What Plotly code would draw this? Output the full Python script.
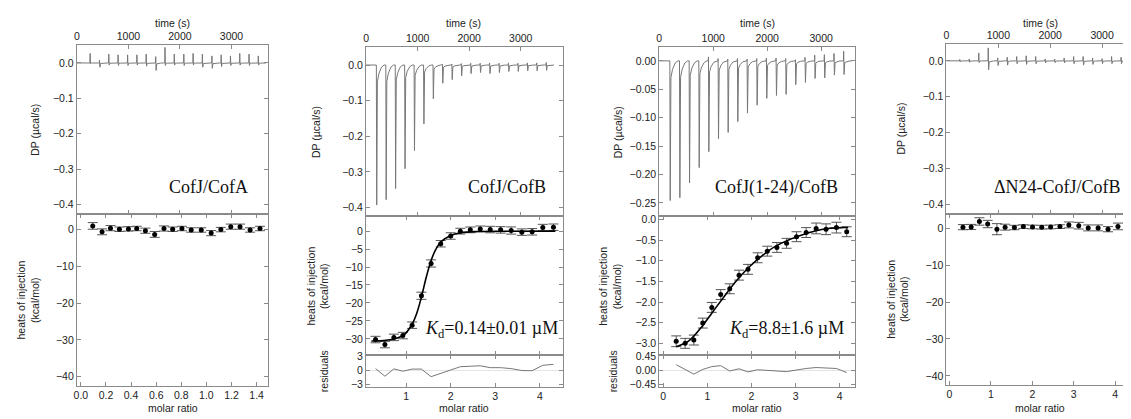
import plotly.graph_objects as go

# reference canvas is 1131x419; the page body adds an 8px margin, so the
# figure is drawn 8px smaller and every reference pixel is shifted by 8
REF_W, REF_H = 1131, 419
OFF = 8
W, H = REF_W - OFF, REF_H - OFF
SANS = "Liberation Sans"
SERIF = "Liberation Serif"
AX = "#8a8a8a"

# ---------------- data ----------------
# panel 1: CofJ/CofA
p1_inj_time = [258, 440, 620, 800, 985, 1165, 1345, 1530, 1710, 1890,
               2075, 2255, 2435, 2620, 2800, 2980, 3160, 3340, 3520]
p1_dp_high = [0.027, 0.008, 0.025, 0.023, 0.023, 0.023, 0.025, 0.018, 0.044, 0.025,
              0.025, 0.027, 0.025, 0.020, 0.023, 0.020, 0.027, 0.025, 0.020]
p1_dp_low = [-0.002, -0.012, -0.006, -0.007, -0.007, -0.006, -0.009, -0.021, -0.007, -0.006,
             -0.007, -0.006, -0.012, -0.015, -0.010, -0.007, -0.006, -0.007, -0.006]
p1_ratio = [0.095, 0.169, 0.236, 0.307, 0.379, 0.445, 0.514, 0.588, 0.662, 0.731,
            0.805, 0.879, 0.959, 1.038, 1.115, 1.194, 1.268, 1.348, 1.427]
p1_heat = [0.9, -0.7, 0.3, 0.0, 0.1, 0.2, -0.4, -1.4, 0.2, 0.0,
           0.2, -0.2, -0.2, -1.05, -0.1, 0.7, 0.7, -0.2, 0.2]
p1_err = [0.9, 0.8, 0.7, 0.6, 0.6, 0.6, 0.7, 0.8, 0.7, 0.6,
          0.6, 0.6, 0.6, 0.7, 0.6, 0.7, 0.7, 0.6, 0.6]

# panel 2: CofJ/CofB
p2_inj_time = [200, 383, 566, 749, 932, 1115, 1298, 1481, 1664, 1847,
               2030, 2213, 2396, 2579, 2762, 2945, 3128, 3311, 3494]
p2_dp_high = [0, 0, 0, 0, 0, 0, 0, 0.002, 0.003, 0.004,
              0.005, 0.005, 0.006, 0.005, 0.006, 0.005, 0.006, 0.006, 0.007]
p2_dp_low = [-0.393, -0.378, -0.347, -0.291, -0.240, -0.165, -0.095, -0.051, -0.041, -0.030,
             -0.024, -0.021, -0.024, -0.021, -0.018, -0.018, -0.016, -0.016, -0.015]
p2_ratio = [0.313, 0.523, 0.725, 0.926, 1.134, 1.343, 1.560, 1.776, 2.000, 2.216,
            2.440, 2.663, 2.887, 3.120, 3.357, 3.597, 3.828, 4.067, 4.306]
p2_heat = [-30.2, -31.6, -29.6, -29.1, -26.2, -18.0, -9.0, -3.5, -1.35, 0.0,
           0.36, 0.63, 0.45, 0.36, 0.18, -0.27, -0.18, 1.0, 1.1]
p2_err = [0.9, 0.9, 0.9, 0.9, 0.9, 1.0, 1.0, 0.9, 0.9, 0.8,
          0.8, 0.8, 0.9, 0.9, 1.0, 0.9, 0.9, 0.9, 0.9]
p2_fit_ratio = [0.22, 0.5, 0.8, 0.95, 1.13, 1.24, 1.34, 1.45, 1.56, 1.66,
                1.78, 2.0, 2.22, 2.6, 3.2, 4.35]
p2_fit_heat = [-30.6, -30.5, -29.8, -28.9, -26.0, -22.8, -18.5, -12.9, -8.2, -5.2,
               -3.0, -1.2, -0.45, -0.1, -0.03, 0.0]
p2_resid = [0.4, -1.2, 0.35, -0.15, 0.3, 0.3, -1.3, -0.6, 0.1, 0.8,
            0.9, 1.0, 0.6, 0.6, 0.4, 0.0, -0.05, 1.1, 1.3]

# panel 3: CofJ(1-24)/CofB
p3_inj_time = [196, 375, 554, 733, 912, 1091, 1270, 1449, 1628, 1807,
               1986, 2165, 2344, 2523, 2702, 2881, 3060, 3239, 3418]
p3_dp_high = [0, 0, 0, 0, 0.007, 0.004, 0.003, 0.004, 0.003, 0.004,
              0.005, 0.005, 0.004, 0.002, 0.006, 0.010, 0.011, 0.013, 0.017]
p3_dp_low = [-0.246, -0.241, -0.215, -0.188, -0.160, -0.137, -0.126, -0.107, -0.092, -0.078,
             -0.066, -0.061, -0.059, -0.042, -0.038, -0.031, -0.030, -0.025, -0.024]
p3_ratio = [0.294, 0.497, 0.693, 0.896, 1.100, 1.303, 1.507, 1.718, 1.921, 2.140,
            2.358, 2.576, 2.795, 3.021, 3.239, 3.465, 3.690, 3.925, 4.158]
p3_heat = [-2.95, -3.00, -2.92, -2.51, -2.13, -1.82, -1.68, -1.35, -1.21, -0.93,
           -0.77, -0.68, -0.58, -0.42, -0.32, -0.22, -0.24, -0.20, -0.30]
p3_err = [0.13, 0.12, 0.12, 0.12, 0.12, 0.12, 0.12, 0.12, 0.12, 0.12,
          0.12, 0.12, 0.12, 0.12, 0.12, 0.13, 0.13, 0.13, 0.12]
p3_fit_ratio = [0.294, 0.58, 0.88, 1.10, 1.33, 1.63, 1.93, 2.23, 2.53, 2.84,
                3.14, 3.44, 3.74, 4.04, 4.19]
p3_fit_heat = [-3.08, -2.94, -2.59, -2.27, -1.94, -1.52, -1.17, -0.89, -0.66, -0.50,
               -0.38, -0.28, -0.22, -0.20, -0.20]
p3_resid = [0.18, 0.02, -0.12, 0.03, 0.12, 0.15, -0.02, 0.05, -0.05, 0.02,
            0.01, -0.02, -0.04, 0.02, 0.06, 0.09, 0.08, 0.06, -0.07]

# panel 4: dN24-CofJ/CofB
p4_inj_time = [256, 439, 622, 805, 988, 1171, 1354, 1537, 1720, 1903,
               2086, 2269, 2452, 2635, 2818, 3001, 3184, 3367, 3550]
p4_dp_high = [0.004, 0.005, 0.022, 0.036, 0.008, 0.010, 0.012, 0.014, 0.012, 0.005,
              0.005, 0.008, 0.012, 0.012, 0.008, 0.006, 0.012, 0.010, 0.005]
p4_dp_low = [-0.003, -0.004, -0.005, -0.025, -0.013, -0.012, -0.008, -0.010, -0.008, -0.006,
             -0.005, -0.006, -0.008, -0.012, -0.010, -0.008, -0.008, -0.008, -0.004]
p4_ratio = [0.327, 0.525, 0.724, 0.923, 1.146, 1.344, 1.568, 1.783, 2.005, 2.227,
            2.442, 2.666, 2.881, 3.120, 3.348, 3.587, 3.826, 4.065, 4.303]
p4_heat = [0.3, 0.35, 1.85, 1.15, -0.25, 0.3, 0.2, 0.45, 0.35, 0.3,
           0.35, 0.45, 0.9, 0.7, 0.1, 0.1, -0.25, 0.5, 0.5]
p4_err = [0.7, 0.7, 1.0, 1.0, 1.5, 0.8, 0.6, 0.5, 0.5, 0.5,
          0.5, 0.5, 0.8, 0.9, 0.8, 0.8, 0.7, 0.9, 0.9]

time_ticks = [0, 1000, 2000, 3000]


def thermogram(times, highs, lows):
    # each injection: short up-tick, sharp dip, fast then slow recovery
    t, d = [0], [0]
    for ti, hi, lo in zip(times, highs, lows):
        t += [ti - 4, ti, ti + 7, ti + 20, ti + 50, ti + 100, ti + 150]
        d += [0, hi, lo, lo * 0.12, lo * 0.06, lo * 0.015, 0]
    return t, d


def px_x(v):
    return min(1.0, max(0.0, (v - OFF) / W))


def px_y(v):
    return min(1.0, max(0.0, 1 - (v - OFF) / H))


panels = [
    dict(x=(74, 266), dp=(41, 214), heat=(214, 389), res=None,
         t=p1_inj_time, hi=p1_dp_high, lo=p1_dp_low, trange=[0, 3714],
         dprange=[-0.428, 0.05], dpdt=0.1, dpfmt=".1f",
         ratio=p1_ratio, heatv=p1_heat, err=p1_err, fit=None,
         hrange=[-42.4, 4], hdt=10, hfmt="d", mrange=[-0.032, 1.493], mdt=0.2, mfmt=".1f",
         name="CofJ/CofA", name_xy=(206, 186), kd=None, title_x=170,
         dp_lab=32, heat_lab=25.5, res_lab=None),
    dict(x=(364, 561), dp=(43, 216), heat=(216, 358), res=(358, 390),
         t=p2_inj_time, hi=p2_dp_high, lo=p2_dp_low, trange=[0, 3810],
         dprange=[-0.425, 0.05], dpdt=0.1, dpfmt=".1f",
         ratio=p2_ratio, heatv=p2_heat, err=p2_err, fit=(p2_fit_ratio, p2_fit_heat),
         resid=p2_resid, rrange=[-3.4, 3.2], rtv=[-3, 0, 3], rfmt="d",
         hrange=[-34.6, 4.1], hdt=5, hfmt="d", mrange=[0.1, 4.51], mdt=1, mfmt="d",
         name="CofJ/CofB", name_xy=(505, 186), title_x=462,
         kd="<i>K</i><sub>d</sub>=0.14\u00b10.01 \u00b5M", kd_xy=(490, 332),
         dp_lab=314, heat_lab=315.5, res_lab=322),
    dict(x=(658, 854), dp=(43, 216), heat=(216, 358), res=(358, 390),
         t=p3_inj_time, hi=p3_dp_high, lo=p3_dp_low, trange=[0, 3623],
         dprange=[-0.274, 0.024], dpdt=0.05, dpfmt=".2f",
         ratio=p3_ratio, heatv=p3_heat, err=p3_err, fit=(p3_fit_ratio, p3_fit_heat),
         resid=p3_resid, rrange=[-0.52, 0.48], rtv=[-0.45, 0, 0.45], rfmt=".2f",
         hrange=[-3.29, 0.07], hdt=0.5, hfmt=".1f", mrange=[-0.09, 4.34], mdt=1, mfmt="d",
         name="CofJ(1-24)/CofB", name_xy=(776, 186), title_x=756,
         kd="<i>K</i><sub>d</sub>=8.8\u00b11.6 \u00b5M", kd_xy=(786, 332),
         dp_lab=616, heat_lab=608.5, res_lab=612),
    dict(x=(946, 1131), dp=(40, 213), heat=(213, 388), res=None,
         t=p4_inj_time, hi=p4_dp_high, lo=p4_dp_low, trange=[0, 3558],
         dprange=[-0.425, 0.046], dpdt=0.1, dpfmt=".1f",
         ratio=p4_ratio, heatv=p4_heat, err=p4_err, fit=None,
         hrange=[-42.4, 4], hdt=10, hfmt="d", mrange=[-0.07, 4.38], mdt=1, mfmt="d",
         name="\u0394N24-CofJ/CofB", name_xy=(1057, 186), kd=None, title_x=1040,
         dp_lab=900, heat_lab=897, res_lab=None),
]

base = dict(showline=True, linecolor=AX, linewidth=1, mirror="allticks",
            ticks="inside", ticklen=4, tickcolor=AX, showgrid=False, zeroline=False,
            tickfont=dict(family=SANS, size=10.5, color="#222"))

fig = go.Figure()
layout = {}
annotations = []
n = 0


def name(i, letter):
    return f"{letter}axis" if i == 1 else f"{letter}axis{i}"


def ref(i, letter):
    return letter if i == 1 else f"{letter}{i}"


def label(text, x, y, angle=0, size=10.5):
    annotations.append(dict(text=text, x=px_x(x), y=px_y(y), xref="paper", yref="paper",
                            showarrow=False, textangle=angle, xanchor="center", yanchor="middle",
                            font=dict(family=SANS, size=size, color="#222")))


for p in panels:
    xd = [px_x(p["x"][0]), px_x(p["x"][1])]
    last = p is panels[-1]
    mir = False if last else "allticks"

    # thermogram
    n += 1
    i_dp = n
    t, d = thermogram(p["t"], p["hi"], p["lo"])
    fig.add_trace(go.Scatter(x=t, y=d, mode="lines", line=dict(color="#777", width=1),
                             xaxis=ref(i_dp, "x"), yaxis=ref(i_dp, "y"), showlegend=False))
    layout[name(i_dp, "x")] = dict(base, domain=xd, anchor=ref(i_dp, "y"), side="top",
                                   range=p["trange"], tickvals=time_ticks)
    layout[name(i_dp, "y")] = dict(base, domain=[px_y(p["dp"][1]), px_y(p["dp"][0])],
                                   anchor=ref(i_dp, "x"), range=p["dprange"],
                                   dtick=p["dpdt"], tick0=0, tickformat=p["dpfmt"], mirror=mir)

    # integrated heats
    n += 1
    i_h = n
    fig.add_trace(go.Scatter(x=p["ratio"], y=p["heatv"], mode="markers",
                             marker=dict(color="black", size=5),
                             error_y=dict(type="data", array=p["err"], color="#555",
                                          thickness=1, width=5),
                             xaxis=ref(i_h, "x"), yaxis=ref(i_h, "y"), showlegend=False))
    if p["fit"]:
        fig.add_trace(go.Scatter(x=p["fit"][0], y=p["fit"][1], mode="lines",
                                 line=dict(color="black", width=1.6, shape="spline"),
                                 xaxis=ref(i_h, "x"), yaxis=ref(i_h, "y"), showlegend=False))
    layout[name(i_h, "x")] = dict(base, domain=xd, anchor=ref(i_h, "y"), range=p["mrange"],
                                  dtick=p["mdt"], tick0=0, tickformat=p["mfmt"],
                                  showticklabels=p["res"] is None)
    layout[name(i_h, "y")] = dict(base, domain=[px_y(p["heat"][1]), px_y(p["heat"][0])],
                                  anchor=ref(i_h, "x"), range=p["hrange"],
                                  dtick=p["hdt"], tick0=0, tickformat=p["hfmt"], mirror=mir)

    # residuals
    if p["res"]:
        n += 1
        i_r = n
        fig.add_trace(go.Scatter(x=p["ratio"], y=p["resid"], mode="lines",
                                 line=dict(color="#777", width=1),
                                 xaxis=ref(i_r, "x"), yaxis=ref(i_r, "y"), showlegend=False))
        layout[name(i_r, "x")] = dict(base, domain=xd, anchor=ref(i_r, "y"),
                                      matches=ref(i_h, "x"), range=p["mrange"],
                                      dtick=p["mdt"], tick0=0, tickformat=p["mfmt"])
        layout[name(i_r, "y")] = dict(base, domain=[px_y(p["res"][1]), px_y(p["res"][0])],
                                      anchor=ref(i_r, "x"), range=p["rrange"],
                                      tickvals=p["rtv"], tickformat=p["rfmt"],
                                      zeroline=True, zerolinecolor="#e4e4e4", zerolinewidth=1)
        label("residuals", p["res_lab"], 374, angle=-90)

    label("time (s)", p["title_x"], 18)
    label("molar ratio", p["title_x"], 412)
    label("DP (\u00b5cal/s)", p["dp_lab"], (p["dp"][0] + p["dp"][1]) / 2, angle=-90)
    label("heats of injection<br>(kcal/mol)", p["heat_lab"],
          (p["heat"][0] + p["heat"][1]) / 2, angle=-90)

    annotations.append(dict(text=p["name"], x=px_x(p["name_xy"][0]), y=px_y(p["name_xy"][1]),
                            xref="paper", yref="paper", showarrow=False,
                            xanchor="center", yanchor="middle",
                            font=dict(family=SERIF, size=18, color="#111")))
    if p["kd"]:
        annotations.append(dict(text=p["kd"], x=px_x(p["kd_xy"][0]), y=px_y(p["kd_xy"][1]),
                                xref="paper", yref="paper", showarrow=False,
                                xanchor="center", yanchor="middle",
                                font=dict(family=SERIF, size=18, color="#111")))

fig.update_layout(**layout)
fig.update_layout(width=W, height=H, margin=dict(l=0, r=0, t=0, b=0),
                  paper_bgcolor="white", plot_bgcolor="white",
                  annotations=annotations, showlegend=False)

fig.write_html("out.html")
